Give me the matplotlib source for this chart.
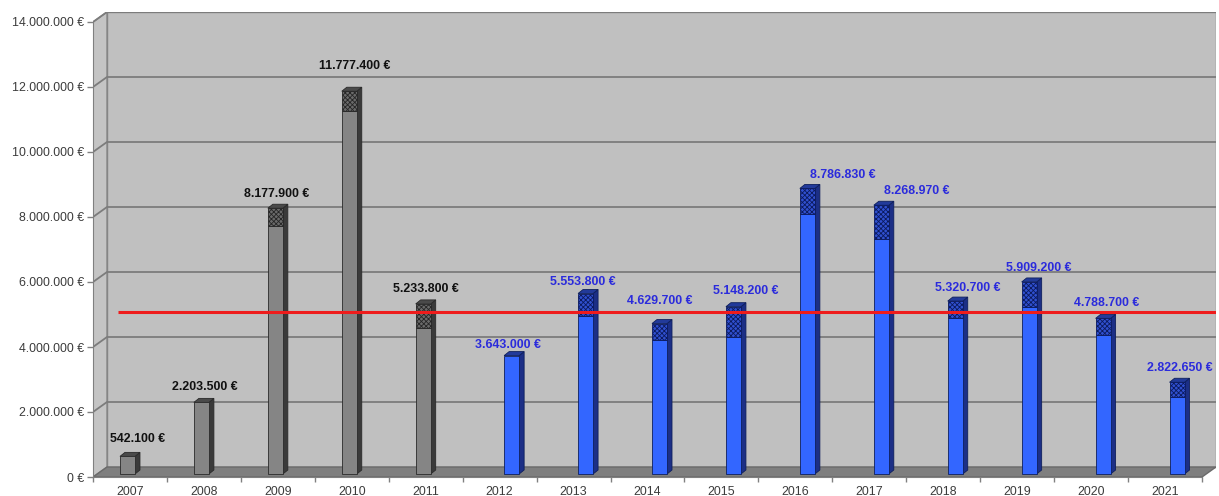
import matplotlib
matplotlib.use('Agg')
import matplotlib.pyplot as plt
from matplotlib.patches import Polygon

plt.rcParams['font.family'] = ['Liberation Sans', 'DejaVu Sans']
plt.rcParams['hatch.linewidth'] = 0.6

# data
years = [str(y) for y in range(2007, 2022)]
gray_values = [542100, 2203500, 8177900, 11777400, 5233800]          # 2007 - 2011
blue_values = [3643000, 5553800, 4629700, 5148200, 8786830,
               8268970, 5320700, 5909200, 4788700, 2822650]          # 2012 - 2021
# hatched top part of each bar (estimated)
gray_hatched = [0, 0, 550000, 600000, 750000]
blue_hatched = [0, 680000, 500000, 930000, 800000,
                1050000, 520000, 770000, 500000, 460000]
target_value = 5000000
y_ticks = list(range(0, 14000001, 2000000))

# label nudges in pixels (dx, dy) - style only
gray_label_shift = [(10, 3), (3, 1), (1, 0), (5, 11), (3, 1)]
blue_label_shift = [(-4, -3), (-3, -2), (0, 9), (12, 2), (35, -1),
                    (35, 0), (13, -1), (10, 0), (4, 1), (3, 0)]

# pixel geometry of the picture
W, H = 1219, 496
X0, X1 = 93, 1202          # front x axis
Y0, YTOP = 477, 22         # 0 and 14.000.000 at the front
DEPTH_X, DEPTH_Y = 14, 10  # depth of the 3d walls
n_cat = len(years)
cat_px = (X1 - X0) / n_cat
val_px = (Y0 - YTOP) / 14e6


def px_x(p):
    return p / cat_px


def px_y(p):
    return p / val_px


def euro(v):
    return '{:,.0f}'.format(v).replace(',', '.') + ' €'


fig = plt.figure(figsize=(W / 100, H / 100), dpi=100)
ax = fig.add_axes([X0 / W, (H - Y0) / H, (X1 + DEPTH_X - X0) / W, (Y0 - YTOP + DEPTH_Y) / H])
xmax = n_cat + px_x(DEPTH_X)
ymax = 14e6 + px_y(DEPTH_Y)
ax.set_xlim(0, xmax)
ax.set_ylim(0, ymax)

dx = px_x(DEPTH_X)
dy = px_y(DEPTH_Y)
wall_edge = '#858585'

# walls and floor
ax.add_patch(Polygon([(dx, dy), (n_cat + dx, dy), (n_cat + dx, 14e6 + dy), (dx, 14e6 + dy)],
                     closed=True, facecolor='#c0c0c0', edgecolor=wall_edge, lw=1, zorder=1))
ax.add_patch(Polygon([(0, 0), (0, 14e6), (dx, 14e6 + dy), (dx, dy)],
                     closed=True, facecolor='#c4c4c4', edgecolor=wall_edge, lw=1, zorder=1))
ax.add_patch(Polygon([(0, 0), (n_cat, 0), (n_cat + dx, dy), (dx, dy)],
                     closed=True, facecolor='#7f7f7f', edgecolor='#6a6a6a', lw=1, zorder=2))

# gridlines on the side wall and back wall
for v in y_ticks[1:]:
    ax.plot([0, dx, n_cat + dx], [v, v + dy, v + dy], color='#7c7c7c', lw=1.3, zorder=1.5)

base = px_y(3)
bar_w = px_x(15)
bdx = px_x(5)
bdy = px_y(4)


def draw_bar(xl, value, hatched, face, side, top, hatch_face, hatch_edge, edge):
    ax.bar(xl, value - hatched, width=bar_w, bottom=base, align='edge',
           color=face, edgecolor=edge, lw=0.6, zorder=4)
    if hatched > 0:
        ax.bar(xl, hatched, width=bar_w, bottom=base + value - hatched, align='edge',
               facecolor=hatch_face, edgecolor=hatch_edge, hatch='xxxxxxx', lw=0.6, zorder=4)
    xr = xl + bar_w
    t = base + value
    ax.add_patch(Polygon([(xr, base), (xr, t), (xr + bdx, t + bdy), (xr + bdx, base + bdy)],
                         closed=True, facecolor=side, edgecolor=edge, lw=0.6, zorder=3.9))
    ax.add_patch(Polygon([(xl, t), (xr, t), (xr + bdx, t + bdy), (xl + bdx, t + bdy)],
                         closed=True, facecolor=top, edgecolor=edge, lw=0.6, zorder=3.9))


# gray series (left slot)
for i, v in enumerate(gray_values):
    c = i + 0.5
    xl = c - px_x(10)
    draw_bar(xl, v, gray_hatched[i], '#858585', '#3a3a3a', '#4a4a4a',
             '#6a6a6a', '#262626', '#2a2a2a')
    sx, sy = gray_label_shift[i]
    ax.annotate(euro(v), xy=(xl + bar_w / 2, base + v),
                xytext=(sx * 0.72, (14 + sy) * 0.72), textcoords='offset points',
                ha='center', va='center', fontsize=8.9, fontweight='bold',
                color='#111111', zorder=6)

# blue series (right slot)
for j, v in enumerate(blue_values):
    c = len(gray_values) + j + 0.5
    xl = c + px_x(4.5)
    draw_bar(xl, v, blue_hatched[j], '#3366ff', '#1c2f86', '#223a9a',
             '#3050d0', '#0b1a5e', '#0e1f5c')
    sx, sy = blue_label_shift[j]
    ax.annotate(euro(v), xy=(xl + bar_w / 2, base + v),
                xytext=(sx * 0.72, (14 + sy) * 0.72), textcoords='offset points',
                ha='center', va='center', fontsize=8.9, fontweight='bold',
                color='#2b2bdc', zorder=6)

# target line
ax.plot([px_x(25), xmax], [target_value + px_y(2.5)] * 2, color='#ee1c1c', lw=2.2,
        solid_capstyle='butt', zorder=5)

# axes
for s in ['top', 'right']:
    ax.spines[s].set_visible(False)
ax.spines['left'].set_bounds(0, 14e6)
ax.spines['bottom'].set_bounds(0, n_cat)
ax.spines['left'].set_color('#808080')
ax.spines['bottom'].set_color('#808080')
ax.spines['left'].set_zorder(3)
ax.spines['bottom'].set_zorder(3)

ax.set_yticks(y_ticks, [euro(v) for v in y_ticks])
ax.tick_params(axis='y', length=4.3, width=1, color='#808080', pad=2.2,
               labelsize=8.9, labelcolor='#3c3c3c')
ax.set_xticks([i + 0.5 for i in range(n_cat)], years)
ax.set_xticks(list(range(n_cat + 1)), minor=True)
ax.tick_params(axis='x', which='major', length=0, pad=6.5, labelsize=8.9, labelcolor='#3c3c3c')
ax.tick_params(axis='x', which='minor', length=3.6, width=1, color='#808080')

fig.savefig('out.png', dpi=100)
